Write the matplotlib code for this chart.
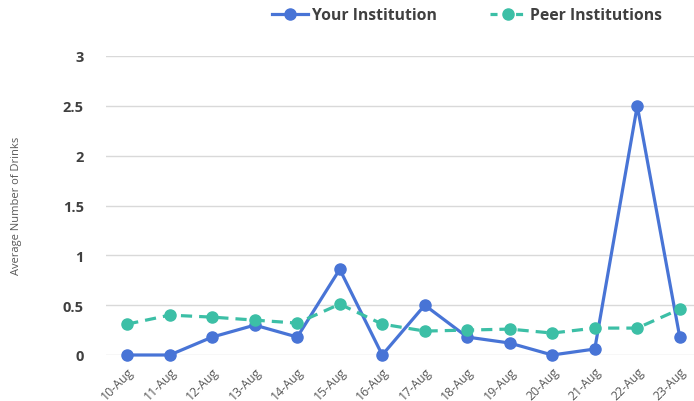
import numpy as np
import matplotlib.pyplot as plt
from matplotlib.lines import Line2D

dates = ["10-Aug", "11-Aug", "12-Aug", "13-Aug", "14-Aug", "15-Aug", "16-Aug",
         "17-Aug", "18-Aug", "19-Aug", "20-Aug", "21-Aug", "22-Aug", "23-Aug"]
your_inst = [0, 0, 0.18, 0.30, 0.18, 0.86, 0, 0.5, 0.18, 0.12, 0, 0.06, 2.5, 0.18]
peer_inst = [0.31, 0.40, 0.38, 0.35, 0.32, 0.51, 0.31, 0.24, 0.25, 0.26, 0.22, 0.27, 0.27, 0.46]

blue = "#4874d6"
teal = "#3cbfa6"
tick_font = ["Open Sans", "DejaVu Sans"]

fig = plt.figure(figsize=(6.94, 4.02), dpi=100)
ax = fig.add_axes([106 / 694, 46 / 402, 595 / 694, 299 / 402])

x = np.arange(len(dates))
ax.plot(x, your_inst, color=blue, lw=2.3, marker="o", markersize=8,
        clip_on=False, zorder=3, label="Your Institution")
ax.plot(x, peer_inst, color=teal, lw=2.3, ls=(0, (3.5, 2.2)), marker="o",
        markersize=8, clip_on=False, zorder=4, label="Peer Institutions")

ax.set_xlim(-0.5, len(dates) - 0.5)
ax.set_ylim(0, 3)
ax.set_yticks([0, 0.5, 1, 1.5, 2, 2.5, 3])
ax.set_yticklabels(["0", "0.5", "1", "1.5", "2", "2.5", "3"],
                   family=tick_font, fontweight="bold", fontsize=10.5, color="#404040")
ax.set_xticks(x)
ax.set_xticklabels(dates, rotation=45, ha="right", rotation_mode="anchor",
                   family=tick_font, fontsize=8.8, color="#595959")
ax.tick_params(axis="both", length=0)
ax.tick_params(axis="y", pad=16)
ax.tick_params(axis="x", pad=7)
ax.grid(axis="y", color="#d9d9d9", lw=1)
ax.set_axisbelow(True)
for s in ax.spines.values():
    s.set_visible(False)

fig.text(17 / 694, 1 - 206 / 402, "Average Number of Drinks", rotation=90,
         ha="center", va="center", family=tick_font, fontsize=8, color="#595959")

handles = [
    Line2D([], [], color=blue, lw=2.3, marker="o", markersize=8),
    Line2D([], [], color=teal, lw=2.3, ls=(0, (2.2, 1.8)), marker="o", markersize=8),
]
fig.legend(handles, ["Your Institution", "Peer Institutions"], loc="center",
           bbox_to_anchor=(467 / 694, 1 - 16 / 402), ncol=2, frameon=False,
           handlelength=2.3, handletextpad=0.25, columnspacing=3.4,
           prop={"family": tick_font, "weight": "bold", "size": 11.3},
           labelcolor="#404040")

plt.savefig("out.png", dpi=100)
